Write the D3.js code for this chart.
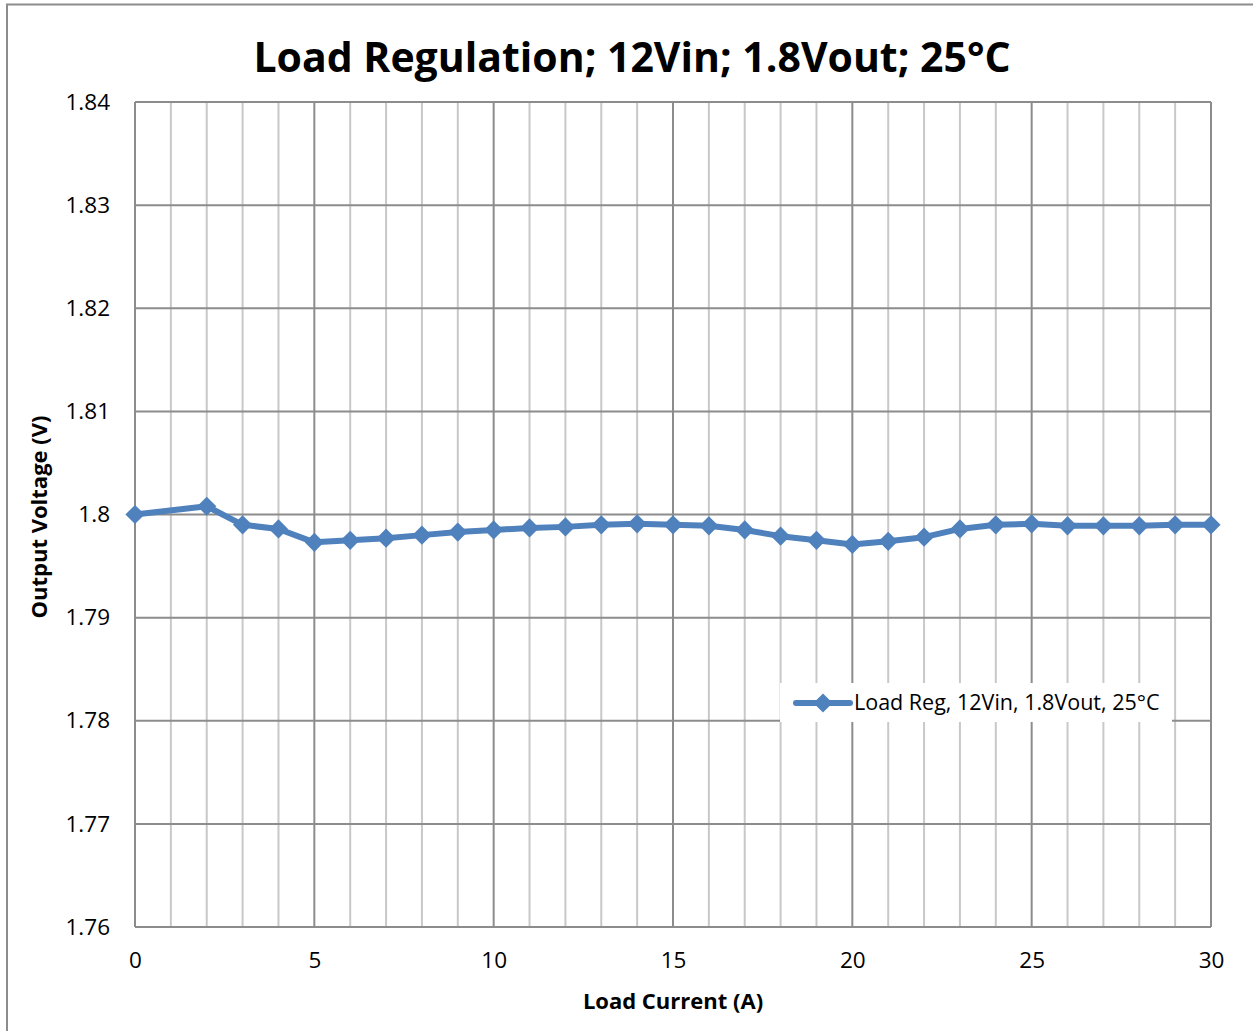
<!DOCTYPE html>
<html>
<head>
<meta charset="utf-8">
<script src="https://cdn.jsdelivr.net/npm/d3@7"></script>
<style>
  html, body { margin: 0; padding: 0; background: #fff; }
  svg { display: block; font-family: "Open Sans", "Noto Sans", sans-serif; }
</style>
</head>
<body>
<svg id="chart" width="1253" height="1031"></svg>
<script>
// Load current (A) and measured output voltage (V)
const loadCurrent = [0, 2, 3, 4, 5, 6, 7, 8, 9, 10, 11, 12, 13, 14, 15, 16, 17, 18, 19, 20, 21, 22, 23, 24, 25, 26, 27, 28, 29, 30];
const outputVoltage = [1.8000, 1.8008, 1.7990, 1.7986, 1.7973, 1.7975, 1.7977, 1.7980, 1.7983, 1.7985, 1.7987, 1.7988, 1.7990, 1.7991, 1.7990, 1.7989, 1.7985, 1.7979, 1.7975, 1.7971, 1.7974, 1.7978, 1.7986, 1.7990, 1.7991, 1.7989, 1.7989, 1.7989, 1.7990, 1.7990];
const yTicks = [1.76, 1.77, 1.78, 1.79, 1.80, 1.81, 1.82, 1.83, 1.84];
const xTicks = [0, 5, 10, 15, 20, 25, 30];
const xMinor = d3.range(0, 31, 1);

const titleText = "Load Regulation; 12Vin; 1.8Vout; 25°C";
const xTitle = "Load Current (A)";
const yTitle = "Output Voltage (V)";
const seriesName = "Load Reg, 12Vin, 1.8Vout, 25°C";

const svg = d3.select("#chart");
const plot = { left: 135, top: 102, right: 1211, bottom: 927 };
const blue = "#4F81BD";

const x = d3.scaleLinear().domain([0, 30]).range([plot.left, plot.right]);
const y = d3.scaleLinear().domain([1.76, 1.84]).range([plot.bottom, plot.top]);

// chart frame
svg.append("path")
  .attr("d", "M7,1031 V4.5 H1253")
  .attr("fill", "none").attr("stroke", "#8c8c8c").attr("stroke-width", 2);

// minor vertical gridlines
svg.append("g").selectAll("line")
  .data(xMinor.filter(d => d % 5 !== 0))
  .join("line")
  .attr("x1", d => x(d)).attr("x2", d => x(d))
  .attr("y1", plot.top).attr("y2", plot.bottom)
  .attr("stroke", "#c8c8c8").attr("stroke-width", 2);

// major vertical gridlines
svg.append("g").selectAll("line")
  .data(xTicks)
  .join("line")
  .attr("x1", d => x(d)).attr("x2", d => x(d))
  .attr("y1", plot.top).attr("y2", plot.bottom)
  .attr("stroke", "#8c8c8c").attr("stroke-width", 2);

// horizontal gridlines
svg.append("g").selectAll("line")
  .data(yTicks)
  .join("line")
  .attr("x1", plot.left).attr("x2", plot.right)
  .attr("y1", d => y(d)).attr("y2", d => y(d))
  .attr("stroke", "#8c8c8c").attr("stroke-width", 2);

// axes
const yAxis = svg.append("g")
  .attr("transform", `translate(${plot.left},0)`)
  .call(d3.axisLeft(y).tickValues(yTicks).tickSize(0).tickPadding(25)
    .tickFormat(d => d3.format(".2f")(d).replace(/0$/, "")));
const xAxis = svg.append("g")
  .attr("transform", `translate(0,${plot.bottom})`)
  .call(d3.axisBottom(x).tickValues(xTicks).tickSize(0).tickPadding(25));
[xAxis, yAxis].forEach(a => {
  a.select(".domain").remove();
  a.selectAll("text").attr("font-size", 22.5).attr("fill", "#000")
    .attr("font-family", "'Open Sans', sans-serif");
});

// title
svg.append("text")
  .attr("x", 632).attr("y", 72)
  .attr("text-anchor", "middle")
  .attr("font-size", 41).attr("font-weight", "bold")
  .text(titleText);

// axis titles
svg.append("text")
  .attr("x", 673).attr("y", 1009)
  .attr("text-anchor", "middle")
  .attr("font-size", 22).attr("font-weight", "bold")
  .text(xTitle);
svg.append("text")
  .attr("transform", "translate(47,517) rotate(-90)")
  .attr("text-anchor", "middle")
  .attr("font-size", 22).attr("font-weight", "bold")
  .text(yTitle);

// series
const diamond = d3.symbol().type(d3.symbolDiamond2).size(235);
const line = d3.line().x((d, i) => x(loadCurrent[i])).y(d => y(d));
svg.append("path")
  .datum(outputVoltage)
  .attr("d", line)
  .attr("fill", "none").attr("stroke", blue)
  .attr("stroke-width", 6).attr("stroke-linejoin", "round");
svg.append("g").selectAll("path")
  .data(outputVoltage)
  .join("path")
  .attr("transform", (d, i) => `translate(${x(loadCurrent[i])},${y(d)})`)
  .attr("d", diamond)
  .attr("fill", blue);

// legend
const lg = svg.append("g").attr("transform", "translate(780,683)");
lg.append("rect").attr("width", 392).attr("height", 39).attr("fill", "#fff");
lg.append("line").attr("x1", 16).attr("x2", 70).attr("y1", 20).attr("y2", 20)
  .attr("stroke", blue).attr("stroke-width", 6).attr("stroke-linecap", "round");
lg.append("path").attr("transform", "translate(43,20)").attr("d", diamond).attr("fill", blue);
lg.append("text").attr("x", 74).attr("y", 27)
  .attr("font-size", 21.5).text(seriesName);
</script>
</body>
</html>
